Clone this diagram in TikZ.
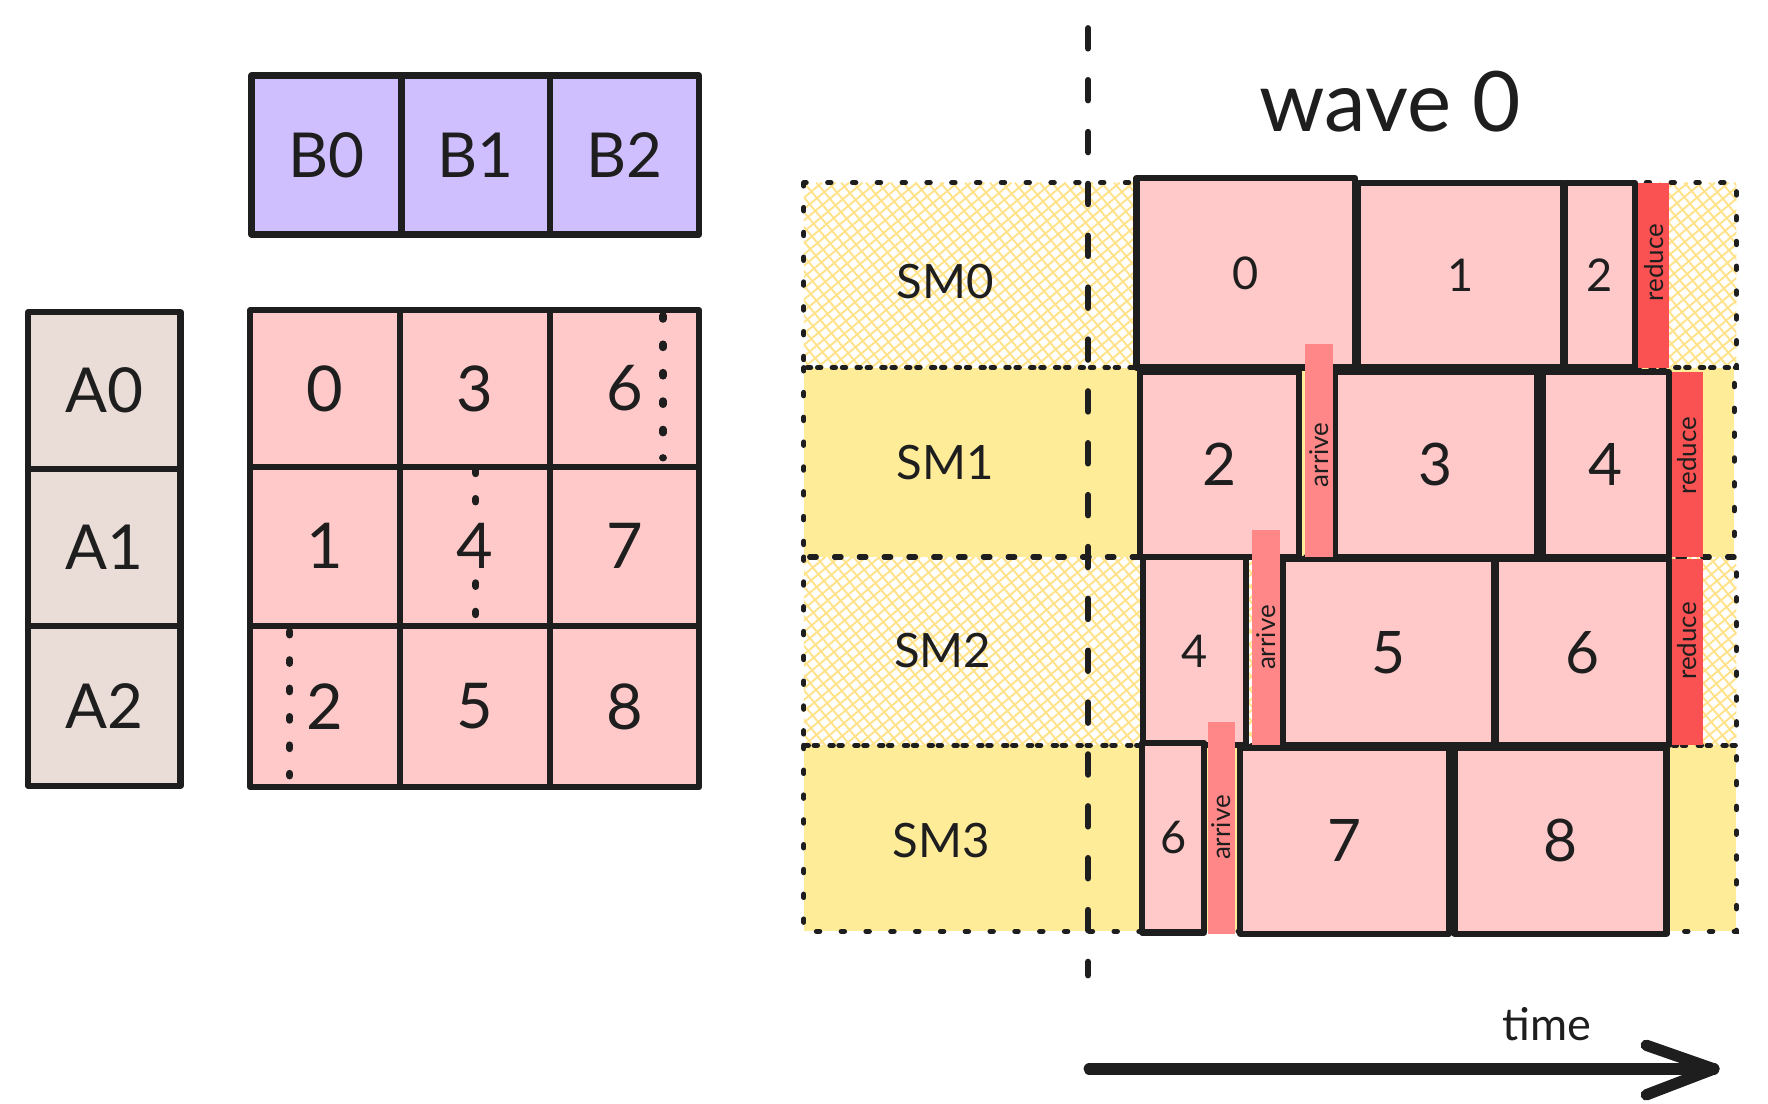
\documentclass[tikz,border=0pt]{standalone}
\usepackage{fontspec}
\setmainfont{Lato}
\usetikzlibrary{calc}
\definecolor{ink}{HTML}{1E1E1E}
\definecolor{tilepink}{HTML}{FFC9C9}
\definecolor{bpurple}{HTML}{D0BFFF}
\definecolor{abeige}{HTML}{EADDD7}
\definecolor{smyellow}{HTML}{FFEC99}
\definecolor{hatchy}{HTML}{FFE28A}
\definecolor{arrivec}{HTML}{FF8787}
\definecolor{reducec}{HTML}{FA5252}
\newcommand\bx[7]{\node[#1, minimum width={(#5)-(#3)}, minimum height={(#6)-(#4)}] (#2) at ({((#3)+(#5))/2},{((#4)+(#6))/2}) {#7};}
\tikzset{
  tile/.style={draw=ink, fill=tilepink, line width=5.5pt, inner sep=0pt, outer sep=0pt, text=ink, line join=round},
  bcell/.style={tile, fill=bpurple, font=\fontsize{55}{58}\selectfont},
  acell/.style={tile, fill=abeige, font=\fontsize{55}{58}\selectfont},
  gcell/.style={tile, font=\fontsize{56}{60}\selectfont},
  tsmall/.style={tile, font=\fontsize{40}{44}\selectfont},
  tlarge/.style={tile, font=\fontsize{52}{56}\selectfont},
  barbase/.style={inner sep=0pt, outer sep=0pt},
  arrivebar/.style={barbase, fill=arrivec},
  reducebar/.style={barbase, fill=reducec},
  bartext/.style={rotate=90, inner sep=0pt, text=ink, font=\fontsize{23}{25}\selectfont},
  rowbox/.style={inner sep=0pt, outer sep=0pt},
  rowyellow/.style={rowbox, fill=smyellow},
  rowborder/.style={draw=ink, line width=4.5pt, line cap=round, dash pattern=on 3pt off 19pt},
  hatch/.style={draw=hatchy, line width=1.7pt},
  smlabel/.style={text=ink, font=\fontsize{42}{46}\selectfont},
  dotline/.style={draw=ink, line width=6.5pt, line cap=round, dash pattern=on 3pt off 22.2pt},
  dashline/.style={draw=ink, line width=5.5pt, line cap=round, dash pattern=on 18pt off 28pt},
  timearrow/.style={draw=ink, line width=10pt, line cap=round, line join=round},
}
\begin{document}
\begin{tikzpicture}[x=1pt,y=-1pt]
\useasboundingbox (0,0) rectangle (1568,979);
% ---------- left: B row ----------
\bx{bcell}{b0}{223}{67}{356}{208}{B0}
\bx{bcell}{b1}{356}{67}{488}{208}{B1}
\bx{bcell}{b2}{488}{67}{620}{208}{B2}
% ---------- A column ----------
\bx{acell}{a0}{25}{277}{160}{416}{A0}
\bx{acell}{a1}{25}{416}{160}{555}{A1}
\bx{acell}{a2}{25}{555}{160}{697}{A2}
% ---------- C grid ----------
\bx{gcell}{c0}{222}{275}{355}{414}{0}
\bx{gcell}{c1}{222}{414}{355}{555}{1}
\bx{gcell}{c2}{222}{555}{355}{698}{2}
\bx{gcell}{c3}{355}{275}{488}{414}{3}
\bx{gcell}{c4}{355}{414}{488}{555}{4}
\bx{gcell}{c5}{355}{555}{488}{698}{5}
\bx{gcell}{c6}{488}{275}{620}{414}{6}
\bx{gcell}{c7}{488}{414}{620}{555}{7}
\bx{gcell}{c8}{488}{555}{620}{698}{8}
\draw[dotline] ($(c6.north)+(34,5)$) -- ($(c6.south)+(34,-8)$);
\draw[dotline] ($(c4.north)+(0.5,3)$) -- ($(c4.north)+(0.5,31)$);
\draw[dotline] ($(c4.south)+(0.5,-38)$) -- ($(c4.south)+(0.5,-10)$);
\draw[dotline] ($(c2.north)+(-31.5,5)$) -- ($(c2.south)+(-31.5,-10)$);
% ---------- SM rows ----------
\bx{rowbox}{sm0}{713}{162}{1540}{326}{}
\bx{rowyellow}{sm1}{713}{326}{1538}{494}{}
\bx{rowbox}{sm2}{713}{494}{1540}{661}{}
\bx{rowyellow}{sm3}{713}{661}{1540}{826}{}
\begin{scope}
  \clip (sm0.north west) rectangle (sm0.south east);
  \foreach \k in {-20,...,75} {
    \draw[hatch] ({713+\k*12},326) -- ++(196,-164);
    \draw[hatch] ({713+\k*11},162) -- ++(138,164);
  }
\end{scope}
\begin{scope}
  \clip (sm2.north west) rectangle (sm2.south east);
  \foreach \k in {-20,...,75} {
    \draw[hatch] ({713+\k*12},661) -- ++(199,-167);
    \draw[hatch] ({713+\k*11},494) -- ++(140,167);
  }
\end{scope}
\foreach \r in {sm0,sm1,sm2,sm3} {
  \draw[rowborder] (\r.north west) rectangle (\r.south east);
}
\node[smlabel] (l0) at (838,250) {SM0};
\node[smlabel] (l1) at (838,410) {SM1};
\node[smlabel] (l2) at (836,577) {SM2};
\node[smlabel] (l3) at (835,745) {SM3};
% dashed wave boundary
\coordinate (dtop) at (965,25);
\coordinate (dbot) at (965,865);
\draw[dashline] (dtop) -- (dbot);
\node[text=ink, font=\fontsize{74}{80}\selectfont] (wave) at (1233,90) {wave 0};
% ---------- tiles ----------
\bx{tsmall}{s0t0}{1008}{158}{1202}{326}{0}
\bx{tsmall}{s0t1}{1204}{162}{1386}{326}{1}
\bx{tsmall}{s0t2}{1388}{162}{1450}{326}{2}
\bx{tlarge}{s1t2}{1011}{330}{1152}{494}{2}
\bx{tlarge}{s1t3}{1184}{330}{1363}{494}{3}
\bx{tlarge}{s1t4}{1368}{330}{1480}{494}{4}
\bx{tsmall}{s2t4}{1014}{494}{1105}{661}{4}
\bx{tlarge}{s2t5}{1138}{496}{1325}{661}{5}
\bx{tlarge}{s2t6}{1327}{496}{1480}{661}{6}
\bx{tsmall}{s3t6}{1013}{659}{1068}{827}{6}
\bx{tlarge}{s3t7}{1100}{663}{1285}{828}{7}
\bx{tlarge}{s3t8}{1290}{663}{1478}{828}{8}
% ---------- bars ----------
\bx{reducebar}{r0}{1453}{162}{1480}{326}{}
\bx{arrivebar}{a1b}{1157}{305}{1182}{494}{}
\bx{reducebar}{r1}{1483}{330}{1510}{494}{}
\bx{arrivebar}{a2b}{1110}{470}{1135}{661}{}
\bx{reducebar}{r2}{1483}{496}{1510}{661}{}
\bx{arrivebar}{a3b}{1071}{640}{1095}{828}{}
\node[bartext] (r0t) at ($(r0)+(0,-11)$) {reduce};
\node[bartext] (a1t) at ($(a1b)+(0,4)$) {arrive};
\node[bartext] (r1t) at ($(r1)+(0,-8)$) {reduce};
\node[bartext] (a2t) at ($(a2b)+(0,0)$) {arrive};
\node[bartext] (r2t) at ($(r2)+(0,-10)$) {reduce};
\node[bartext] (a3t) at ($(a3b)+(0,0)$) {arrive};
% ---------- time arrow ----------
\coordinate (ts) at (966,948);
\coordinate (te) at (1520,948);
\draw[timearrow] (ts) -- (te);
\draw[timearrow] ($(te)+(-60,-21)$) -- (te) -- ($(te)+(-60,23)$);
\node[text=ink, font=\fontsize{40}{44}\selectfont] (time) at (1372,908) {time};
\end{tikzpicture}
\end{document}
